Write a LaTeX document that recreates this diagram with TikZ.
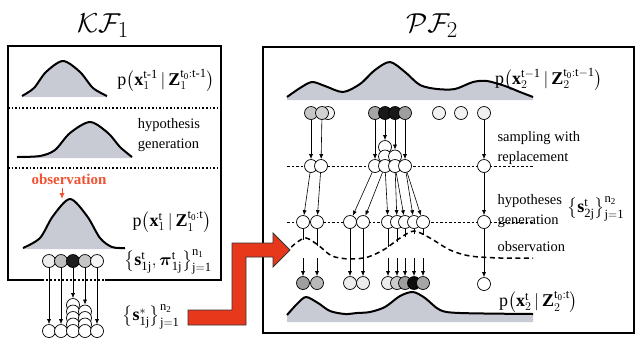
\documentclass[tikz,border=0pt]{standalone}
\usepackage{amsmath}
\usepackage{fontspec}
\setmainfont{Liberation Serif}
\usetikzlibrary{arrows.meta}

\definecolor{curvegray}{RGB}{200,202,212}
\definecolor{obsred}{RGB}{240,82,50}
\definecolor{bigred}{RGB}{232,56,28}

\tikzset{
  particle/.style={circle, draw, line width=0.7pt, inner sep=0pt, minimum size=13pt, fill=white},
  link/.style={line width=0.6pt, -{Latex[length=5pt,width=4pt]}},
  density/.style={line width=2pt, line join=round},
  sepdash/.style={line width=0.7pt, dash pattern=on 2.5pt off 2pt},
  lbl/.style={font=\fontsize{14.5}{20}\selectfont, align=left},
  eq/.style={font=\fontsize{18}{20}\selectfont, inner sep=1pt},
  ttl/.style={font=\fontsize{24.88}{30}\selectfont, scale=1.1},
}

\begin{document}
\begin{tikzpicture}[x=1pt, y=-1pt]
\useasboundingbox (0,0) rectangle (636,346);

% titles
\node[ttl] (kf) at (103,26) {$\mathcal{K}\mathcal{F}_1$};
\node[ttl] (pf) at (432,26) {$\mathcal{P}\mathcal{F}_2$};

% ---- KF1 box
\draw[line width=2pt] (42,280) -- (8,280) -- (8,46) -- (221,46) -- (221,280) -- (105,280);
\draw[line width=2pt, dotted] (42,280) -- (105,280);
\draw[line width=1.6pt, dotted] (8,108) -- (221,108);
\draw[line width=1.6pt, dotted] (8,168) -- (221,168);

% prior, hypothesis, posterior
\fill[curvegray] plot[smooth] coordinates {(22,96) (34,88) (46,72) (63,61) (80,72) (93,88) (107,96)} -- (107,97) -- (22,97) -- cycle;
\draw[density] plot[smooth] coordinates {(22,96) (34,88) (46,72) (63,61) (80,72) (93,88) (107,96)};
\fill[curvegray] plot[smooth] coordinates {(17,157) (40,156) (55,150) (70,133) (90,122) (108,133) (120,147) (132,157)} -- (132,158) -- (17,158) -- cycle;
\draw[density] plot[smooth] coordinates {(17,157) (40,156) (55,150) (70,133) (90,122) (108,133) (120,147) (132,157)};
\fill[curvegray] plot[smooth] coordinates {(23,248) (40,238) (53,216) (70,199) (87,216) (100,238) (112,247) (125,248)} -- (125,249) -- (23,249) -- cycle;
\draw[density] plot[smooth] coordinates {(23,248) (40,238) (53,216) (70,199) (87,216) (100,238) (112,247) (125,248)};

\node[eq] (priorA) at (166,80) {$\mathrm{p}\bigl(\mathbf{x}_1^{\mathrm{t\text{-}1}}\,|\,\mathbf{Z}_1^{\mathrm{t_0:t\text{-}1}}\bigr)$};
\node[lbl] (hypA) at (169,135) {hypothesis\\generation};
\node[lbl, font=\fontsize{15}{20}\selectfont\bfseries, text=obsred] (obsA) at (69,179) {observation};
\coordinate (peakA) at (62,199);
\draw[line width=0.9pt, obsred, -{Latex[length=6pt,width=5pt]}] (obsA.south -| peakA) -- (peakA);
\node[eq] (postA) at (172,222) {$\mathrm{p}\bigl(\mathbf{x}_1^{\mathrm{t}}\,|\,\mathbf{Z}_1^{\mathrm{t_0:t}}\bigr)$};

% weighted particles
\node[particle, fill=gray!15] (a1) at (49,261) {};
\node[particle, fill=gray!50] (a2) at (61,261) {};
\node[particle, fill=black!88] (a3) at (73,261) {};
\node[particle, fill=gray!45] (a4) at (85,261) {};
\node[particle, fill=gray!8] (a5) at (97,261) {};
\node[eq] (setA) at (168,262) {$\bigl\{\mathbf{s}_{\mathrm{1j}}^{\mathrm{t}},\boldsymbol{\pi}_{\mathrm{1j}}^{\mathrm{t}}\bigr\}_{\mathrm{j=1}}^{\mathrm{n_1}}$};

% resampled stack
\node[particle] (c1) at (73,305) {};
\node[particle] (c2) at (73,311.5) {};
\node[particle] (c3) at (85,311.5) {};
\node[particle] (c4) at (73,318) {};
\node[particle] (c5) at (85,318) {};
\node[particle] (c6) at (73,324.5) {};
\node[particle] (c7) at (85,324.5) {};
\node[particle] (b1) at (49,331) {};
\node[particle] (b2) at (61,331) {};
\node[particle] (b3) at (73,331) {};
\node[particle] (b4) at (85,331) {};
\node[particle] (b5) at (97,331) {};
\draw[link] (a1) -- (b1);
\draw[link] (a2) -- (b2);
\draw[link] (a3) -- (c1);
\draw[link] (a4) -- (c3);
\draw[link] (a5) -- (b5);
\node[eq] (setB) at (151,317) {$\bigl\{\mathbf{s}_{\mathrm{1j}}^{*}\bigr\}_{\mathrm{j=1}}^{\mathrm{n_2}}$};

% ---- PF2 box
\draw[line width=2pt] (263,47) rectangle (634,333);

\fill[curvegray] plot[smooth] coordinates {(287,97) (300,88) (312,82) (325,86) (343,92) (360,84) (375,70) (390,62) (405,72) (420,85) (437,89) (455,89) (473,82) (487,81) (505,86) (520,92) (533,97)} -- (533,100) -- (287,100) -- cycle;
\draw[density] plot[smooth] coordinates {(287,97) (300,88) (312,82) (325,86) (343,92) (360,84) (375,70) (390,62) (405,72) (420,85) (437,89) (455,89) (473,82) (487,81) (505,86) (520,92) (533,97)};
\fill[curvegray] plot[smooth] coordinates {(287,315) (297,304) (306,297) (318,303) (330,311) (345,314) (357,313) (370,312) (385,307) (400,296) (413,292) (425,298) (440,310) (460,313) (533,314)} -- (533,322) -- (287,322) -- cycle;
\draw[density] plot[smooth] coordinates {(287,315) (297,304) (306,297) (318,303) (330,311) (345,314) (357,313) (370,312) (385,307) (400,296) (413,292) (425,298) (440,310) (460,313) (533,314)};

\draw[sepdash] (287,166) -- (533,166);
\draw[sepdash] (287,222) -- (533,222);
% observation likelihood
\draw[line width=1.5pt, dash pattern=on 5pt off 3.5pt] plot[smooth] coordinates {(285,253) (296,243) (306,238) (318,245) (332,256) (350,259) (368,257) (385,249) (400,238) (414,231) (430,238) (450,250) (470,256) (500,258) (533,258)};

% prior particles
\node[particle, fill=gray!8] (r3) at (328,113) {};
\node[particle, fill=gray!45] (r1) at (311,113) {};
\node[particle, fill=gray!35] (r2) at (322,113) {};
\node[particle, fill=gray!70] (r4) at (375,113) {};
\node[particle, fill=black!90] (r5) at (385,113) {};
\node[particle, fill=black!90] (r6) at (395,113) {};
\node[particle, fill=gray!75] (r7) at (405,113) {};
\node[particle, fill=gray!10] (r8) at (439,113) {};
\node[particle, fill=gray!10] (r9) at (461,113) {};
\node[particle, fill=gray!12] (r10) at (484,113) {};

% sampling with replacement
\node[particle] (k1) at (385,147) {};
\node[particle] (k2) at (385,156.5) {};
\node[particle] (k3) at (395,156.5) {};
\node[particle] (m1) at (311,166) {};
\node[particle] (m2) at (321,166) {};
\node[particle] (m3) at (375,166) {};
\node[particle] (m4) at (385,166) {};
\node[particle] (m5) at (395,166) {};
\node[particle] (m6) at (405,166) {};
\node[particle] (m7) at (484,166) {};
\draw[link] (r1) -- (m1);
\draw[link] (r2) -- (m2);
\draw[link] (r4) -- (m3);
\draw[link] (r5) -- (k1);
\draw[link] (r6) -- (k3);
\draw[link] (r7) -- (m6);
\draw[link] (r10) -- (m7);

% hypotheses generation
\node[particle] (h1) at (303,222) {};
\node[particle] (h2) at (317,222) {};
\node[particle] (h3) at (350,222) {};
\node[particle] (h4) at (363,222) {};
\node[particle] (h5) at (388,222) {};
\node[particle] (h6) at (397,222) {};
\node[particle] (h7) at (405,222) {};
\node[particle] (h8) at (414,222) {};
\node[particle] (h9) at (423,222) {};
\node[particle] (h10) at (484,222) {};
\draw[link] (m1) -- (h1);
\draw[link] (m2) -- (h2);
\draw[link] (m3) -- (h3);
\draw[link] (m4) -- (h4);
\draw[link] (m4) -- (h5);
\draw[link] (m5) -- (h6);
\draw[link] (m5) -- (h7);
\draw[link] (m6) -- (h8);
\draw[link] (m6) -- (h9);
\draw[link] (m7) -- (h10);

% weighted posterior particles
\node[particle, fill=gray!75] (w1) at (303,283) {};
\node[particle, fill=gray!55] (w2) at (317,283) {};
\node[particle, fill=gray!15] (w3) at (350,283) {};
\node[particle, fill=gray!15] (w4) at (363,283) {};
\node[particle, fill=gray!15] (w5) at (388,283) {};
\node[particle, fill=gray!40] (w6) at (397,283) {};
\node[particle, fill=gray!75] (w7) at (405,283) {};
\node[particle, fill=black!95] (w8) at (414,283) {};
\node[particle, fill=gray!70] (w9) at (423,283) {};
\node[particle] (w10) at (484,284) {};

% down to the likelihood, then weighting
\coordinate (o1) at (303,240);
\coordinate (o2) at (317,246);
\coordinate (o5) at (388,247);
\coordinate (o6) at (397,242);
\coordinate (o7) at (405,237);
\coordinate (o8) at (414,234);
\coordinate (o9) at (423,235);
\draw[line width=0.6pt] (h1) -- (o1);
\draw[line width=0.6pt] (h2) -- (o2);
\draw[line width=0.6pt] (h5) -- (o5);
\draw[line width=0.6pt] (h6) -- (o6);
\draw[line width=0.6pt] (h7) -- (o7);
\draw[line width=0.6pt] (h8) -- (o8);
\draw[line width=0.6pt] (h9) -- (o9);
\coordinate (q1) at (303,258);
\coordinate (q2) at (317,258);
\coordinate (q5) at (388,258);
\coordinate (q6) at (397,258);
\coordinate (q7) at (405,258);
\coordinate (q8) at (414,258);
\coordinate (q9) at (423,258);
\draw[link] (q1) -- (w1);
\draw[link] (q2) -- (w2);
\draw[link] (q5) -- (w5);
\draw[link] (q6) -- (w6);
\draw[link] (q7) -- (w7);
\draw[link] (q8) -- (w8);
\draw[link] (q9) -- (w9);
\draw[link] (h3) -- (w3);
\draw[link] (h4) -- (w4);
\draw[link] (h10) -- (w10);

% labels
\node[eq, anchor=west] (priorB) at (494,79) {$\mathrm{p}\bigl(\mathbf{x}_2^{\mathrm{t-1}}\,|\,\mathbf{Z}_2^{\mathrm{t_0:t-1}}\bigr)$};
\node[lbl, anchor=west] (sampB) at (494,148) {sampling with\\replacement};
\node[lbl, anchor=west] (hypB) at (494,211) {hypotheses\\generation};
\node[eq, anchor=west] (setC) at (566,209) {$\bigl\{\mathbf{s}_{\mathrm{2j}}^{\mathrm{t}}\bigr\}_{\mathrm{j=1}}^{\mathrm{n_2}}$};
\node[lbl, anchor=west] (obsB) at (494,247) {observation};
\node[eq, anchor=west] (postB) at (498,302) {$\mathrm{p}\bigl(\mathbf{x}_2^{\mathrm{t}}\,|\,\mathbf{Z}_2^{\mathrm{t_0:t}}\bigr)$};

% big red arrow from KF1 to PF2
\filldraw[fill=bigred, draw=black!80, line width=0.8pt] (188,310) -- (232,310) -- (232,243) -- (273,243) -- (273,233) -- (290,250) -- (273,267) -- (273,257) -- (246,257) -- (246,325) -- (188,325) -- cycle;
\end{tikzpicture}
\end{document}
